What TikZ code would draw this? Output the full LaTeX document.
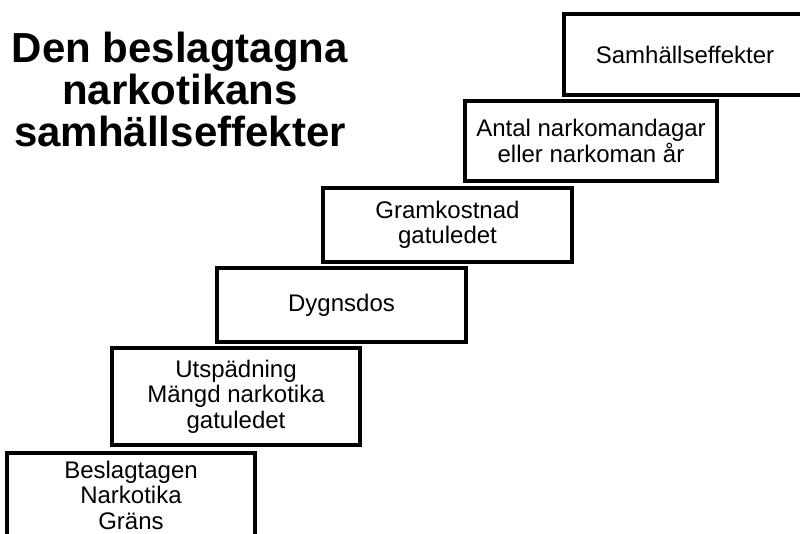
\documentclass[tikz,border=0pt]{standalone}
\usepackage{fontspec}
\setmainfont{Liberation Sans}
\begin{document}
\begin{tikzpicture}[x=1pt,y=-1pt,
  box/.style={draw=black,line width=3.5pt,fill=white,align=center,inner sep=0pt,
    font=\fontsize{24}{25.5}\selectfont},
  title/.style={align=center,font=\fontsize{42}{42}\selectfont\bfseries}]
\useasboundingbox[fill=white] (0,0) rectangle (800,534);
\node[box,minimum width=248pt,minimum height=84pt] (b1) at (131,495) {Beslagtagen\\Narkotika\\Gräns};
\node[box,minimum width=248pt,minimum height=97pt] (b2) at (236,396.5) {Utspädning\\Mängd narkotika\\gatuledet};
\node[box,minimum width=249pt,minimum height=74pt] (b3) at (341.5,305) {Dygnsdos};
\node[box,minimum width=249pt,minimum height=74pt] (b4) at (447.5,225) {Gramkostnad\\gatuledet};
\node[box,minimum width=252pt,minimum height=80pt] (b5) at (591,141) {Antal narkomandagar\\eller narkoman år};
\node[box,minimum width=242pt,minimum height=81pt] (b6) at (685,54.5) {Samhällseffekter};
\node[title] (t) at (180,89) {Den beslagtagna\\narkotikans\\samhällseffekter};
\end{tikzpicture}
\end{document}
